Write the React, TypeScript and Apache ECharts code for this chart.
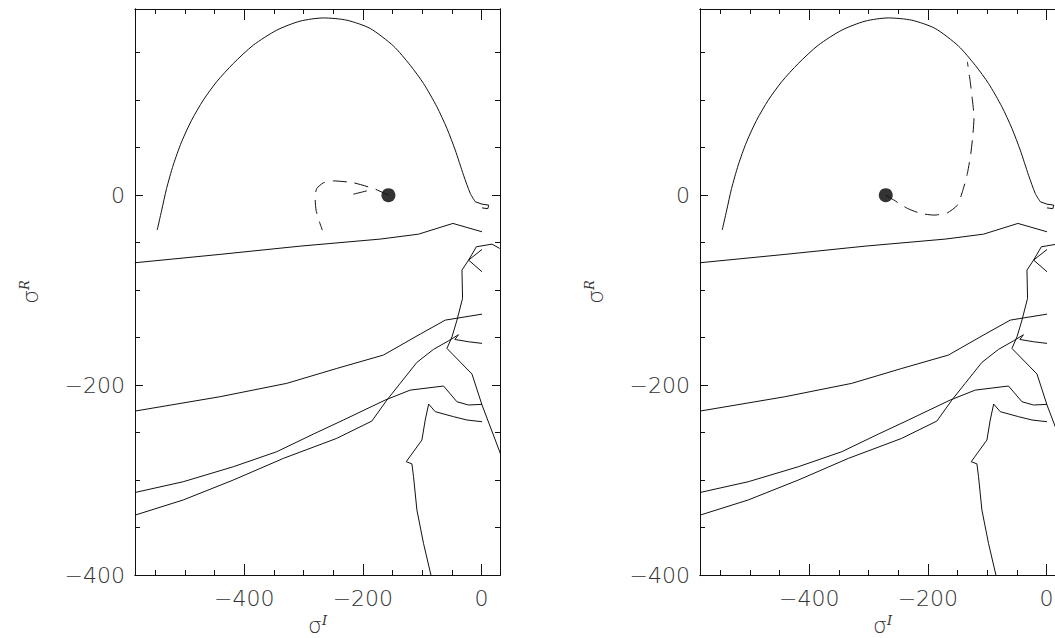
import React, { useEffect, useRef } from 'react';
import * as echarts from 'echarts';

// Axis ranges and ticks
const X_MIN = -584;
const X_MAX = 31;
const Y_MIN = -400;
const Y_MAX = 196;
const X_MAJOR = [-400, -200, 0];
const X_MINOR = [-550, -500, -450, -350, -300, -250, -150, -100, -50];
const Y_MAJOR = [-400, -200, 0];
const Y_MINOR = [150, 100, 50, -50, -100, -150, -250, -300, -350];

// Solid curves (same in both panels)
const arch = [
  [-546.6, -36.8], [-539, -15.8], [-530.8, 7], [-519.6, 31.6], [-505.5, 56.1], [-488.6, 78.9],
  [-469, 100], [-446.5, 119.3], [-418.4, 138.6], [-384.7, 157.9], [-345.2, 173.7], [-305.9, 183.2],
  [-266.6, 186.6], [-227.1, 184.2], [-187.8, 175.5], [-148.5, 157], [-120.3, 136.8], [-97.9, 117.6],
  [-75.3, 93], [-58.4, 70.2], [-44.4, 47.4], [-30.4, 21], [-19.1, 1.8], [-10.6, -7],
];
const archHook = [
  [-10.6, -7], [0.7, -9.5], [12, -10.5], [10.5, -14.3], [0.7, -13.4],
];
const lineA = [
  [-584.3, -71.2], [-440.9, -62.4], [-305.7, -53.7], [-171, -46.3], [-106.3, -41.1], [-48.3, -29.8], [0.7, -38.6],
];
const lineB = [
  [-584, -227.4], [-441, -212.3], [-328.3, -198.2], [-244, -182.5], [-165.4, -168.4], [-103.4, -146.3],
  [-61.2, -131.6], [0.7, -125.3],
];
const lineC = [
  [-583.1, -313], [-502.8, -301.8], [-418.4, -286], [-345.2, -270.2], [-283.4, -251.6], [-232.8, -236.8],
  [-162.5, -215.8], [-120.3, -205.3], [-64.1, -201], [-41.5, -217.6], [-21.9, -221], [0.7, -220.3],
];
const lineD = [
  [-583.1, -336.8], [-502.8, -321], [-418.4, -300], [-334, -277.2], [-244, -256.1], [-184.9, -237.9],
  [-159.6, -215.8], [-137.2, -198.2], [-109, -176.1], [-81, -162.4], [-55.7, -153.4], [-39, -147],
  [-45, -152], [-21.9, -154.4], [0.7, -156.1],
];
const lineE = [
  [30.4, -56.1], [17.5, -51.6], [-8.9, -54.4], [-21.9, -68.4], [-33.1, -78.9], [-32.1, -108.7],
  [-41.5, -131.6], [-49.9, -149.2], [-58.4, -161.4], [-16.2, -188.4], [0.7, -221], [23.1, -257.9],
  [31.5, -271.9], [45, -300],
];
const lineEBranch = [
  [0.7, -57.2], [-21.9, -68.4], [0.7, -80.7],
];
const lineF = [
  [0.7, -238.6], [-24.6, -236.8], [-47.2, -233.3], [-78.1, -228], [-89.2, -220], [-95, -236.8],
  [-100.6, -257.9], [-127, -280.7], [-117.4, -283], [-114.7, -296.5], [-109, -331.6], [-97.9, -366.6],
  [-85.4, -400], [-82, -415],
];

// Left panel: dashed track and dot
const dashLeft = [
  [-157, 0], [-165.3, 2.4], [-182.2, 7], [-216, 13], [-249.7, 15], [-266.6, 13], [-277.7, 7],
  [-280.6, -1.8], [-278.9, -15.8], [-273.3, -28.1], [-268.3, -36.8],
];
const dashLeftShort = [
  [-216, 1], [-193.4, 4.5],
];
const dotLeft = [[-157, 0]];

// Right panel: dashed track and dot
const dashRight = [
  [-271, 0], [-257, -5.3], [-234.4, -14], [-212, -19.3], [-189.6, -21], [-167.1, -18.6], [-150.3, -10.5],
  [-141.9, 3.5], [-133.5, 22.8], [-127.7, 43.9], [-124, 64.9], [-122.3, 82.4], [-125, 100],
  [-129, 121], [-133.5, 140.3],
];
const dotRight = [[-271, 0]];

const smoothLines = [arch];
const solidLines = [archHook, lineA, lineB, lineC, lineD, lineE, lineEBranch, lineF];

const INK = '#111';
const LABEL_COLOR = '#333';
const fmt = (v: number) => (v < 0 ? '\u2212' + Math.abs(v) : String(v));

const rich = {
  s: { fontSize: 22, fontFamily: 'DejaVu Sans', fontWeight: 200, lineHeight: 24, color: LABEL_COLOR },
  sup: { fontSize: 13, fontFamily: 'DejaVu Serif', fontStyle: 'italic', verticalAlign: 'top', lineHeight: 13, color: LABEL_COLOR },
};

function buildXAxes(grid: number) {
  const base = {
    type: 'value', gridIndex: grid, min: X_MIN, max: X_MAX,
    splitLine: { show: false },
    axisLine: { show: true, onZero: false, lineStyle: { color: INK, width: 1 } },
  };
  const tick = (vals: number[], len: number) => ({
    show: true, inside: true, length: len, customValues: vals, lineStyle: { color: INK, width: 1 },
  });
  return [
    {
      ...base, position: 'bottom', axisTick: tick(X_MAJOR, 11),
      axisLabel: {
        show: true, customValues: X_MAJOR, formatter: fmt, margin: 12, fontSize: 22,
        fontFamily: 'DejaVu Sans', fontWeight: 200, color: LABEL_COLOR,
      },
      name: '{s|σ}{sup|I}', nameLocation: 'middle', nameGap: 38, nameTextStyle: { rich },
    },
    { ...base, position: 'bottom', axisTick: tick(X_MINOR, 5), axisLabel: { show: false } },
    { ...base, position: 'top', axisTick: tick(X_MAJOR, 11), axisLabel: { show: false } },
    { ...base, position: 'top', axisTick: tick(X_MINOR, 5), axisLabel: { show: false } },
  ];
}

function buildYAxes(grid: number) {
  const base = {
    type: 'value', gridIndex: grid, min: Y_MIN, max: Y_MAX,
    splitLine: { show: false },
    axisLine: { show: true, onZero: false, lineStyle: { color: INK, width: 1 } },
  };
  const tick = (vals: number[], len: number) => ({
    show: true, inside: true, length: len, customValues: vals, lineStyle: { color: INK, width: 1 },
  });
  return [
    {
      ...base, position: 'left', axisTick: tick(Y_MAJOR, 8),
      axisLabel: {
        show: true, customValues: Y_MAJOR, formatter: fmt, margin: 10, fontSize: 22,
        fontFamily: 'DejaVu Sans', fontWeight: 200, color: LABEL_COLOR,
      },
      name: '{s|σ}{sup|R}', nameLocation: 'middle', nameRotate: 90, nameGap: 93, nameTextStyle: { rich },
    },
    { ...base, position: 'left', axisTick: tick(Y_MINOR, 5), axisLabel: { show: false } },
    { ...base, position: 'right', axisTick: tick(Y_MAJOR, 8), axisLabel: { show: false } },
    { ...base, position: 'right', axisTick: tick(Y_MINOR, 5), axisLabel: { show: false } },
  ];
}

function panelSeries(grid: number, dashed: number[][][], dot: number[][]) {
  const axisIdx = grid * 4;
  const out: any[] = [];
  smoothLines.forEach((d) => {
    out.push({
      type: 'line', xAxisIndex: axisIdx, yAxisIndex: axisIdx, data: d, showSymbol: false, smooth: 0.25,
      lineStyle: { color: INK, width: 1 }, silent: true, clip: true,
    });
  });
  solidLines.forEach((d) => {
    out.push({
      type: 'line', xAxisIndex: axisIdx, yAxisIndex: axisIdx, data: d, showSymbol: false,
      lineStyle: { color: INK, width: 1 }, silent: true, clip: true,
    });
  });
  dashed.forEach((d) => {
    out.push({
      type: 'line', xAxisIndex: axisIdx, yAxisIndex: axisIdx, data: d, showSymbol: false, smooth: 0.2,
      lineStyle: { color: INK, width: 1, type: [14, 8] }, silent: true, clip: true,
    });
  });
  out.push({
    type: 'scatter', xAxisIndex: axisIdx, yAxisIndex: axisIdx, data: dot, symbol: 'circle', symbolSize: 14,
    itemStyle: { color: '#000' }, silent: true,
  });
  return out;
}

export default function App() {
  const ref = useRef<HTMLDivElement>(null);
  useEffect(() => {
    if (!ref.current) return;
    const chart = echarts.init(ref.current, null, { renderer: 'svg' });
    chart.setOption({
      animation: false,
      backgroundColor: '#fff',
      grid: [
        { left: 135, top: 9, width: 365, height: 566, containLabel: false, outerBoundsMode: 'none' },
        { left: 700, top: 9, width: 365, height: 566, containLabel: false, outerBoundsMode: 'none' },
      ],
      xAxis: [...buildXAxes(0), ...buildXAxes(1)],
      yAxis: [...buildYAxes(0), ...buildYAxes(1)],
      series: [
        ...panelSeries(0, [dashLeft, dashLeftShort], dotLeft),
        ...panelSeries(1, [dashRight], dotRight),
      ],
    });
    return () => chart.dispose();
  }, []);
  return (
    <div
      ref={ref}
      style={{ position: 'absolute', left: 0, top: 0, width: 1055, height: 638, background: '#fff' }}
    />
  );
}
